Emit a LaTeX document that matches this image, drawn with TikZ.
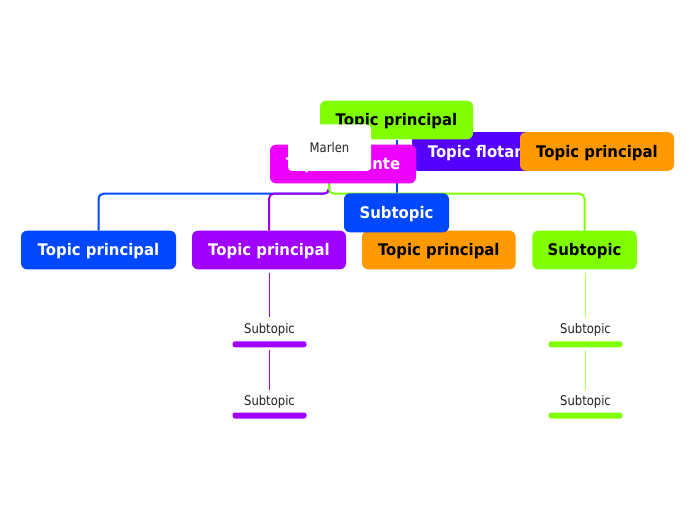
\documentclass[tikz,border=0pt]{standalone}
\usepackage{fontspec}
\setmainfont{DejaVu Sans}
\newfontfamily\topicfont{DejaVu Sans}[FakeStretch=0.93]
\newfontfamily\smallfont{DejaVu Sans}[FakeStretch=0.87]
\usetikzlibrary{backgrounds}
\definecolor{cgreen}{RGB}{128,255,0}
\definecolor{clgreen}{RGB}{170,255,90}
\definecolor{cblue}{RGB}{0,72,255}
\definecolor{cpurple}{RGB}{160,0,255}
\definecolor{cmagenta}{RGB}{238,0,255}
\definecolor{cviolet}{RGB}{85,0,255}
\definecolor{corange}{RGB}{255,153,0}
\definecolor{ctext}{RGB}{34,34,34}
\begin{document}
\begin{tikzpicture}[x=1pt,y=-1pt,
  topic/.style={rectangle, rounded corners=6pt, inner sep=0pt, minimum height=38.6pt,
    text height=11.7pt, text depth=0.3pt,
    font=\topicfont\fontsize{16}{19}\selectfont\bfseries},
  subtext/.style={rectangle, inner sep=0pt, anchor=base, text height=16.6pt, text depth=0pt,
    text=ctext, font=\smallfont\fontsize{13.33}{16}\selectfont},
  bar/.style={rectangle, rounded corners=2.5pt, inner sep=0pt, minimum width=74pt, minimum height=6pt},
  link/.style={line width=2pt, rounded corners=5pt},
  sublink/.style={line width=1.2pt}]
\useasboundingbox (0,0) rectangle (696,520);

% floating / top nodes
\node[topic, fill=cviolet, text=white, minimum width=146pt] (viol) at (485,151.5) {Topic flotante};
\node[topic, fill=cgreen, text=black, minimum width=153pt] (gtop) at (396.5,120) {Topic principal};
\node[topic, fill=corange, text=black, minimum width=154pt] (otop) at (597,151.5) {Topic principal};
\node[topic, fill=cmagenta, text=white, minimum width=146pt] (mag) at (343,164) {Topic flotante};
\node[rectangle, rounded corners=4pt, fill=white, inner sep=0pt, minimum width=83pt, minimum height=46.5pt,
  text height=10pt, text depth=0pt, text=ctext, font=\smallfont\fontsize{13.33}{16}\selectfont] (marlen) at (329.5,147.7) {Marlen};

% main row
\node[topic, fill=cblue, text=white, minimum width=155pt] (b1) at (98.5,250) {Topic principal};
\node[topic, fill=cpurple, text=white, minimum width=154pt] (b2) at (269,250) {Topic principal};
\node[topic, fill=corange, text=black, minimum width=153.5pt] (b3) at (438.8,250) {Topic principal};
\node[topic, fill=cgreen, text=black, minimum width=104.5pt] (b4) at (584.5,250) {Subtopic};
\node[topic, fill=cblue, text=white, minimum width=105pt, minimum height=39pt] (bsub) at (396.5,212.8) {Subtopic};

% subtopics
\node[subtext] (s1) at (269.5,333.3) {Subtopic};
\node[bar, fill=cpurple] (r1) at (269.5,344.3) {};
\node[subtext] (s2) at (269.5,405.5) {Subtopic};
\node[bar, fill=cpurple] (r2) at (269.5,415.5) {};
\node[subtext] (s3) at (585.5,333.3) {Subtopic};
\node[bar, fill=cgreen] (r3) at (585.5,344.3) {};
\node[subtext] (s4) at (585.5,405.5) {Subtopic};
\node[bar, fill=cgreen] (r4) at (585.5,415.5) {};

\coordinate (mj) at ([xshift=-14pt]mag.south);
\coordinate (hy) at (0,193.7);

\begin{pgfonlayer}{background}
  \draw[link, cblue] (gtop.south) -- (bsub.north);
  \draw[link, cblue] (mj) |- (b1.north |- hy) -- (b1.north);
  \draw[link, cpurple] (mj) |- (b2.north |- hy) -- (b2.north);
  \draw[link, cgreen] (mj) |- (b4.north |- hy) -- (b4.north);
\end{pgfonlayer}

\draw[sublink, draw=cpurple, shorten <=3pt] (s1.north |- b2.south) -- (s1.north);
\draw[sublink, draw=cpurple, shorten <=2pt, shorten >=-1pt] (r1.south) -- (s2.north);
\draw[sublink, draw=clgreen, shorten <=3pt] (s3.north |- b4.south) -- (s3.north);
\draw[sublink, draw=clgreen, shorten <=2pt, shorten >=-1pt] (r3.south) -- (s4.north);
\end{tikzpicture}
\end{document}
